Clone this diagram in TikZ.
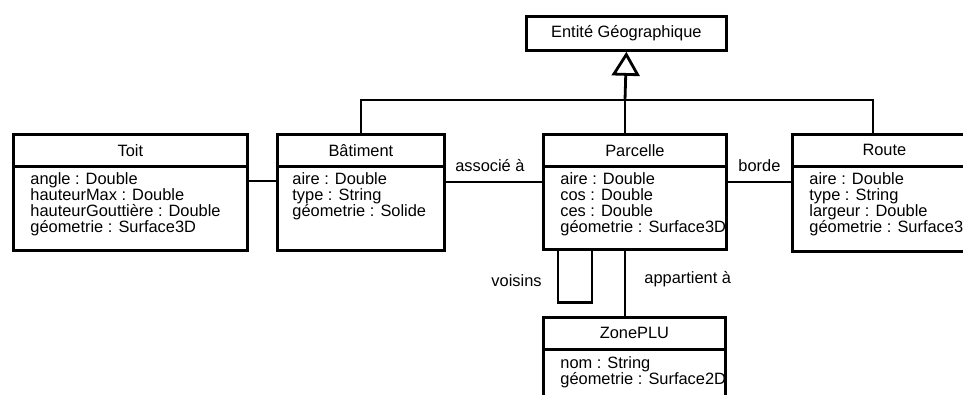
\documentclass[tikz,border=0pt]{standalone}
\usepackage{fontspec}
\setmainfont{Liberation Sans}
\usetikzlibrary{arrows.meta,calc}
\begin{document}
\begin{tikzpicture}[x=1pt,y=-1pt, line width=2.8pt,
  every node/.style={font=\fontsize{16.4}{16}\selectfont},
  hdr/.style={draw, line width=2.8pt, anchor=north west, minimum height=32pt, inner sep=0pt},
  bdy/.style={draw, line width=2.8pt, anchor=north west, inner sep=0pt},
  attr/.style={align=left, anchor=north west, inner sep=0pt},
  lbl/.style={inner sep=0pt}]
\useasboundingbox (0,0) rectangle (963,394);
\clip (0,0) rectangle (963,394);

% Entité Géographique
\node[hdr, minimum width=200pt, minimum height=34pt] (ent) at (525,15) {Entité Géographique};

% Toit
\node[hdr, minimum width=234pt] (toitH) at (12,133) {Toit};
\node[bdy, minimum width=234pt, minimum height=84pt] (toitB) at (12,165) {};
\node[attr] (toitA) at ([xshift=17pt,yshift=-6pt]toitB.north west)
  {angle : Double\\hauteurMax : Double\\hauteurGouttière : Double\\géometrie : Surface3D};

% Bâtiment
\node[hdr, minimum width=167pt] (batH) at (276,133) {Bâtiment};
\node[bdy, minimum width=167pt, minimum height=84pt] (batB) at (276,165) {};
\node[attr] (batA) at ([xshift=15pt,yshift=-6pt]batB.north west)
  {aire : Double\\type : String\\géometrie : Solide};

% Parcelle
\node[hdr, minimum width=183pt] (parcH) at (542,133) {Parcelle};
\node[bdy, minimum width=183pt, minimum height=83pt] (parcB) at (542,165) {};
\node[attr] (parcA) at ([xshift=17pt,yshift=-6pt]parcB.north west)
  {aire : Double\\cos : Double\\ces : Double\\géometrie : Surface3D};

% Route
\node[hdr, minimum width=184pt] (routeH) at (791,133) {Route};
\node[bdy, minimum width=184pt, minimum height=85pt] (routeB) at (791,165) {};
\node[attr] (routeA) at ([xshift=17pt,yshift=-6pt]routeB.north west)
  {aire : Double\\type : String\\largeur : Double\\géometrie : Surface3D};

% ZonePLU
\node[hdr, minimum width=182pt] (zoneH) at (542,316) {ZonePLU};
\node[bdy, minimum width=182pt, minimum height=80pt] (zoneB) at (542,348) {};
\node[attr] (zoneA) at ([xshift=17pt,yshift=-7pt]zoneB.north west)
  {nom : String\\géometrie : Surface2D};

% Generalisation
\coordinate (hub) at (625,100);
\draw[-{Triangle[open,length=24pt,width=28pt]}] (hub) -- (ent.south);
\draw (batH.north) |- (hub) -| ([xshift=82pt]routeH.north west);
\draw (hub) -- (parcH.north -| hub);

% Associations
\draw ([yshift=-16pt]toitB.north east) -- ([yshift=-16pt]batB.north west);
\draw ([yshift=-17pt]batB.north east) -- node[lbl, above=9pt, xshift=-4pt] (assoc) {associé à} ([yshift=-17pt]parcB.north west);
\draw ([yshift=-17pt]parcB.north east) -- node[lbl, above=9pt] (borde) {borde} ([yshift=-17pt]routeB.north west);
\draw ([xshift=16pt]parcB.south west) -- node[lbl, pos=0.58, left=15pt] (vois) {voisins} ++(0,52) -| ([xshift=50pt]parcB.south west);
\draw (parcB.south -| hub) -- node[lbl, pos=0.44, right=18pt] (appart) {appartient à} (zoneH.north -| hub);
\end{tikzpicture}
\end{document}
